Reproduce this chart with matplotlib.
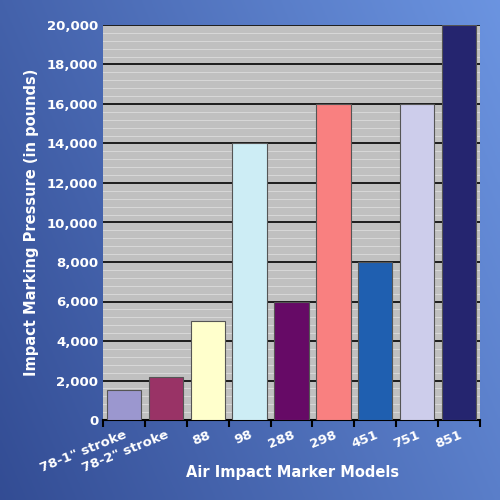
import numpy as np
import matplotlib.pyplot as plt

models = ['78-1" stroke', '78-2" stroke', '88', '98', '288', '298', '451', '751', '851']
pressure = [1500, 2200, 5000, 14000, 6000, 16000, 8000, 16000, 20000]
colors = ['#9b97cf', '#993366', '#ffffcc', '#cdedf5', '#660a66', '#f98080', '#1f5fb0', '#cdcdeb', '#25256f']

fig = plt.figure(figsize=(5, 5), dpi=100)

# blue gradient background
bg = fig.add_axes([0, 0, 1, 1], zorder=-1)
xx, yy = np.meshgrid(np.linspace(0, 1, 200), np.linspace(0, 1, 200))
g = 0.7 * xx + 0.3 * yy
c1 = np.array([0.20, 0.30, 0.58])
c2 = np.array([0.42, 0.58, 0.88])
img = c1 + (c2 - c1) * g[..., None]
bg.imshow(img, origin='lower', aspect='auto', extent=[0, 1, 0, 1])
bg.axis('off')

ax = fig.add_axes([0.206, 0.16, 0.754, 0.79])
ax.set_facecolor('#c0c0c0')
x = np.arange(len(models))
ax.bar(x, pressure, width=0.82, color=colors, edgecolor='#555555', linewidth=0.8, zorder=3)

ax.set_ylim(0, 20000)
ax.set_xlim(-0.5, len(models) - 0.5)
ax.set_yticks(np.arange(0, 20001, 2000))
ax.set_yticklabels([f'{v:,}' for v in range(0, 20001, 2000)])
ax.set_yticks(np.arange(0, 20001, 400), minor=True)
ax.grid(axis='y', which='minor', color='#d8d8d8', linewidth=0.7, zorder=1)
ax.grid(axis='y', which='major', color='black', linewidth=1.2, zorder=2)
ax.tick_params(axis='y', which='minor', length=0)
ax.set_xticks(x)
ax.set_xticklabels(models, rotation=22, ha='right', rotation_mode='anchor')
ax.set_xticks(np.arange(-0.5, len(models)), minor=True)
ax.tick_params(axis='x', which='major', length=0, pad=6)
ax.tick_params(axis='x', which='minor', length=5, width=1.5, color='black')
ax.tick_params(axis='y', which='major', length=0)
for lbl in ax.get_xticklabels() + ax.get_yticklabels():
    lbl.set_color('white')
    lbl.set_fontweight('bold')
    lbl.set_fontsize(9.5)
for s in ['top', 'right', 'left']:
    ax.spines[s].set_visible(False)
ax.spines['bottom'].set_color('black')
ax.spines['bottom'].set_linewidth(1.5)

fig.text(0.585, 0.055, 'Air Impact Marker Models', color='white', fontweight='bold',
         fontsize=10.5, ha='center', va='center')
ax.set_ylabel('Impact Marking Pressure (in pounds)', color='white', fontweight='bold', fontsize=10.5, labelpad=6)

fig.savefig('out.png', dpi=100)
